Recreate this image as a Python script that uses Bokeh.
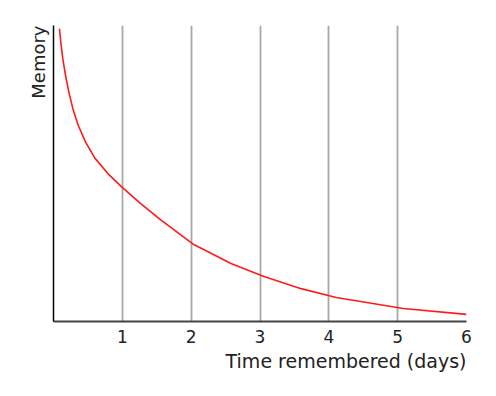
from bokeh.plotting import figure
from bokeh.models import Range1d, FixedTicker, Title
from bokeh.embed import file_html
from bokeh.resources import INLINE

# Data (memory as % of the axis height)
days = [0.087, 0.106, 0.135, 0.175, 0.223, 0.281, 0.360, 0.466, 0.601, 0.805,
        0.99, 1.267, 1.558, 2.039, 2.578, 3.058, 3.597, 4.107, 5.082, 6.0]
memory = [98.9, 94.4, 88.8, 83.1, 77.5, 71.9, 66.2, 60.6, 55.2, 49.6,
          45.5, 39.8, 34.3, 26.0, 19.6, 15.2, 11.1, 8.1, 4.4, 2.4]
tick_days = [1, 2, 3, 4, 5, 6]

FONT = "DejaVu Sans"

p = figure(width=480, height=390, output_backend="svg", toolbar_location=None,
           x_range=Range1d(0, 6), y_range=Range1d(0, 100),
           min_border_left=53, min_border_right=14, min_border_top=25,
           min_border_bottom=69)
p.outline_line_color = None
p.background_fill_color = "white"
p.border_fill_color = "white"

p.line(days, memory, line_color="#ff1a1a", line_width=1.6, line_join="round")

# x axis
p.xaxis.ticker = FixedTicker(ticks=tick_days)
p.xaxis.major_tick_in = 0
p.xaxis.major_tick_out = 0
p.xaxis.minor_tick_in = 0
p.xaxis.minor_tick_out = 0
p.xaxis.axis_line_color = "#444444"
p.xaxis.axis_line_width = 2
p.xaxis.major_label_standoff = 8
p.xaxis.major_label_text_font = FONT
p.xaxis.major_label_text_font_size = "17px"
p.xaxis.major_label_text_color = "#222222"

# y axis: line only
p.yaxis.ticker = FixedTicker(ticks=[])
p.yaxis.major_tick_in = 0
p.yaxis.major_tick_out = 0
p.yaxis.minor_tick_in = 0
p.yaxis.minor_tick_out = 0
p.yaxis.major_label_text_font_size = "0px"
p.yaxis.axis_line_color = "black"
p.yaxis.axis_line_width = 1.5

# grid
p.xgrid.ticker = FixedTicker(ticks=tick_days)
p.xgrid.grid_line_color = "#a8a8a8"
p.xgrid.grid_line_width = 1.8
p.ygrid.grid_line_color = None

xt = Title(text="Time remembered (days)", align="right", text_font=FONT,
           text_font_size="19px", text_font_style="normal", text_color="#222222",
           standoff=4)
p.add_layout(xt, "below")
yt = Title(text="Memory", align="right", text_font=FONT,
           text_font_size="18px", text_font_style="normal", text_color="#222222",
           standoff=10)
p.add_layout(yt, "left")

open("out.html", "w").write(file_html(p, INLINE))
